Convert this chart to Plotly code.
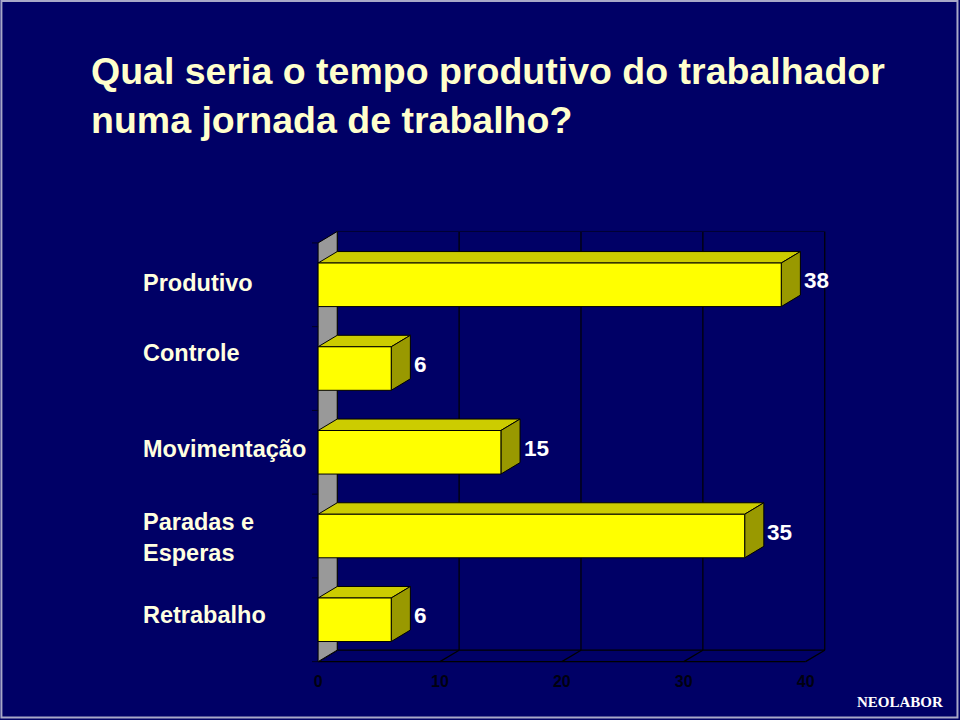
import plotly.graph_objects as go

# ---------------- data ----------------
categories = ["Produtivo", "Controle", "Movimentação", "Paradas e<br>Esperas", "Retrabalho"]
values = [38, 6, 15, 35, 6]
x_ticks = [0, 10, 20, 30, 40]
title_text = "Qual seria o tempo produtivo do trabalhador<br>numa jornada de trabalho?"
label_yshift = [2, 16, 3, -1, 5]

# ---------------- style ----------------
BG = "#000066"
FRONT = "#FFFF00"
TOP = "#CCCC00"
SIDE = "#999900"
WALL = "#999999"
EDGE = "#000000"
FONT = "Liberation Sans, Arial, sans-serif"

W, H = 960, 720
# axis geometry (pixels)
X0PX, SX = 318.0, 12.2       # pixel of x=0, px per unit
YTOPPX, SY = 243.0, 83.8     # pixel of y=-0.5, px per category
xr = [-0.5, 42.0]
yr = [4.6, -0.75]
L = X0PX + xr[0] * SX
PW = (xr[1] - xr[0]) * SX
R = W - L - PW
T = YTOPPX + (yr[1] + 0.5) * SY
PH = (yr[0] - yr[1]) * SY
B = H - T - PH

def pxx(px):
    return (px - L) / PW

def pxy(py):
    return 1 - (py - T) / PH

DX = 1.57    # depth in x units
DY = 0.137   # depth in category units
HALF = 0.26
n = len(categories)
xmax = x_ticks[-1]
ylo, yhi = -0.5, n - 0.5

fig = go.Figure()

def poly(xs, ys, fill, width=1, color=EDGE):
    fig.add_trace(go.Scatter(
        x=list(xs) + [xs[0]], y=list(ys) + [ys[0]], mode="lines", fill="toself",
        fillcolor=fill, line=dict(color=color, width=width),
        hoverinfo="skip", showlegend=False))

def line(xs, ys, color=EDGE, width=1.2):
    fig.add_trace(go.Scatter(
        x=xs, y=ys, mode="lines", line=dict(color=color, width=width),
        hoverinfo="skip", showlegend=False))

# back wall gridlines
for t in x_ticks:
    line([t + DX, t + DX], [ylo - DY, yhi - DY])
# back wall top edge
line([DX, xmax + DX], [ylo - DY, ylo - DY], color="#000033", width=1)
# floor
line([0, xmax], [yhi, yhi])
line([DX, xmax + DX], [yhi - DY, yhi - DY])
for t in x_ticks:
    line([t, t + DX], [yhi, yhi - DY])
# left gray wall
poly([0, DX, DX, 0], [ylo, ylo - DY, yhi - DY, yhi], WALL)
# small tick marks on the wall
for k in range(n + 1):
    yk = ylo + k
    line([-0.6, 0], [yk, yk], color="#000022", width=1)

# bars
for i, v in enumerate(values):
    y1, y2 = i - HALF, i + HALF
    poly([0, v, v + DX, DX], [y1, y1, y1 - DY, y1 - DY], TOP)
    poly([v, v + DX, v + DX, v], [y1, y1 - DY, y2 - DY, y2], SIDE)
    poly([0, v, v, 0], [y1, y1, y2, y2], FRONT)

annotations = []
# category labels
for i, c in enumerate(categories):
    annotations.append(dict(
        x=pxx(141), xref="paper", y=i, yref="y", text=f"<b>{c}</b>", showarrow=False,
        xanchor="left", yanchor="middle", align="left", yshift=label_yshift[i],
        font=dict(family=FONT, size=23.5, color="#FFFFE0")))
# value labels
for i, v in enumerate(values):
    annotations.append(dict(
        x=v + 1.7, xref="x", y=i, yref="y", text=f"<b>{v}</b>", showarrow=False,
        xanchor="left", yanchor="middle", yshift=4,
        font=dict(family=FONT, size=22.5, color="#FFFFFF")))
# title
annotations.append(dict(
    x=pxx(89), xref="paper", y=pxy(95), yref="paper", text=f"<b>{title_text}</b>",
    showarrow=False, xanchor="left", yanchor="middle", align="left",
    font=dict(family=FONT, size=37.5, color="#FFFFCC")))
# NEOLABOR
annotations.append(dict(
    x=pxx(900), xref="paper", y=pxy(702), yref="paper", text="<b>NEOLABOR</b>",
    showarrow=False, xanchor="center", yanchor="middle",
    font=dict(family="Liberation Serif, Times New Roman, serif", size=15, color="#FFFFFF")))

shapes = [dict(type="rect", xref="paper", yref="paper",
               x0=pxx(1), x1=pxx(W - 2), y0=pxy(H - 2), y1=pxy(1),
               line=dict(color="#A8A8C8", width=2), fillcolor="rgba(0,0,0,0)", layer="above")]

fig.update_layout(
    width=W, height=H,
    paper_bgcolor=BG, plot_bgcolor=BG,
    margin=dict(l=L, r=R, t=T, b=B, pad=0),
    showlegend=False,
    xaxis=dict(range=xr, tickvals=x_ticks, ticktext=[f"<b>{t}</b>" for t in x_ticks],
               showgrid=False, zeroline=False, showline=False, ticks="",
               tickfont=dict(family=FONT, size=16, color="#000010"),
               fixedrange=True),
    yaxis=dict(range=yr, showgrid=False, zeroline=False, showline=False,
               showticklabels=False, ticks="", fixedrange=True),
    annotations=annotations,
    shapes=shapes,
)

fig.write_html("out.html")
